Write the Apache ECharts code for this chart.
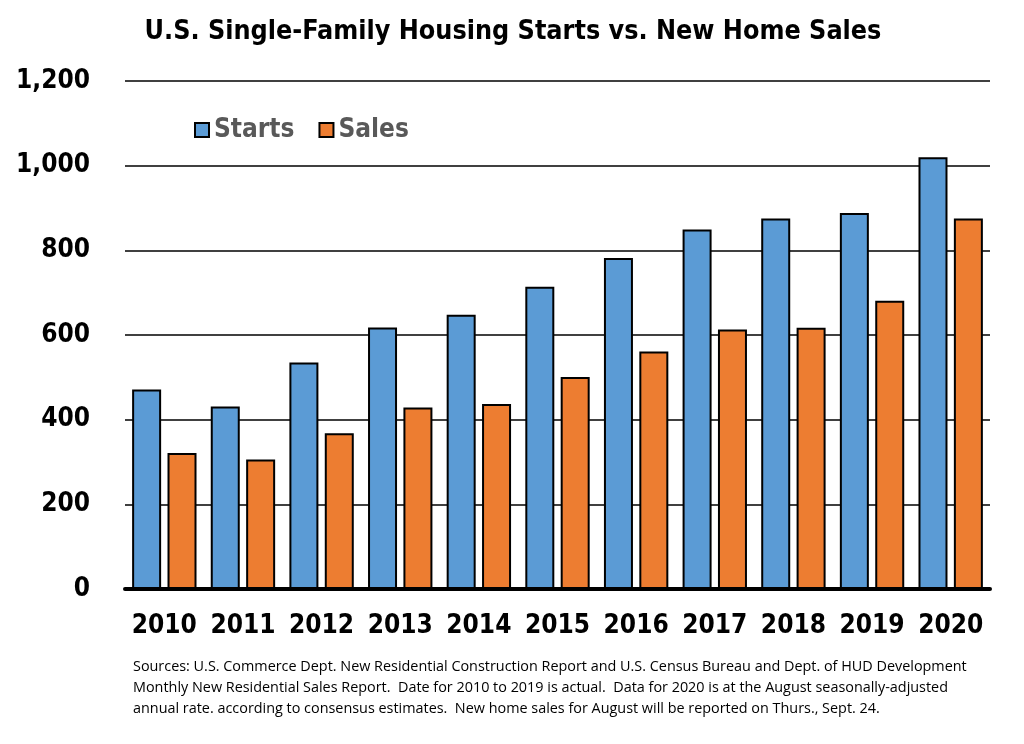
<!DOCTYPE html>
<html>
<head>
<meta charset="utf-8">
<script src="https://cdn.jsdelivr.net/npm/echarts@6/dist/echarts.min.js"></script>
<style>
html, body { margin: 0; padding: 0; background: #fff; }
#main { width: 1024px; height: 744px; }
</style>
</head>
<body>
<div id="main"></div>
<script>
var years = ['2010', '2011', '2012', '2013', '2014', '2015', '2016', '2017', '2018', '2019', '2020'];
var starts = [471, 431, 535, 618, 648, 714, 782, 849, 875, 888, 1020];
var sales = [321, 306, 368, 429, 437, 501, 561, 613, 617, 681, 875];
var yTicks = [0, 200, 400, 600, 800, 1000, 1200];

var note = 'Sources: U.S. Commerce Dept. New Residential Construction Report and U.S. Census Bureau and Dept. of HUD Development\n' +
	'Monthly New Residential Sales Report.  Date for 2010 to 2019 is actual.  Data for 2020 is at the August seasonally-adjusted\n' +
	'annual rate. according to consensus estimates.  New home sales for August will be reported on Thurs., Sept. 24.';

var myChart = echarts.init(document.getElementById('main'));
var boldFont = 'DejaVu Sans Condensed';

option = {
	backgroundColor: '#fff',
	animation: false,
	title: [{
		text: 'U.S. Single-Family Housing Starts vs. New Home Sales',
		left: 508,
		textAlign: 'center',
		top: 14,
		textStyle: { fontFamily: boldFont, fontWeight: 'bold', fontSize: 26.7, color: '#000' }
	}, {
		text: note,
		left: 128,
		top: 651,
		textStyle: { fontFamily: 'Open Sans', fontWeight: 'normal', fontSize: 14.4, lineHeight: 21, color: '#000' }
	}],
	legend: {
		left: 189,
		top: 112,
		itemWidth: 14,
		itemHeight: 14,
		itemGap: 24,
		icon: 'rect',
		data: ['Starts', 'Sales'],
		textStyle: { fontFamily: boldFont, fontWeight: 'bold', fontSize: 26, color: '#595959' }
	},
	grid: { left: 125, right: 34, top: 81, bottom: 155 },
	xAxis: [{
		type: 'category',
		data: years,
		axisLine: { lineStyle: { color: '#000', width: 4 } },
		axisTick: { show: false },
		axisLabel: { interval: 0, fontFamily: boldFont, fontWeight: 'bold', fontSize: 26, color: '#000', margin: 24 }
	}],
	yAxis: [{
		type: 'value',
		min: yTicks[0],
		max: yTicks[yTicks.length - 1],
		interval: 200,
		axisLine: { show: false },
		axisTick: { show: false },
		splitLine: { lineStyle: { color: '#000', width: 1.5 } },
		axisLabel: {
			fontFamily: boldFont, fontWeight: 'bold', fontSize: 26, color: '#000', margin: 35,
			formatter: function(v) { return v.toLocaleString('en-US'); }
		}
	}],
	series: [{
		name: 'Starts',
		type: 'bar',
		data: starts,
		barWidth: 29,
		barGap: '22%',
		itemStyle: { color: '#5B9BD5', borderColor: '#000', borderWidth: 2 }
	}, {
		name: 'Sales',
		type: 'bar',
		data: sales,
		barWidth: 29,
		itemStyle: { color: '#ED7D31', borderColor: '#000', borderWidth: 2 }
	}]
};
myChart.setOption(option);
</script>
</body>
</html>
